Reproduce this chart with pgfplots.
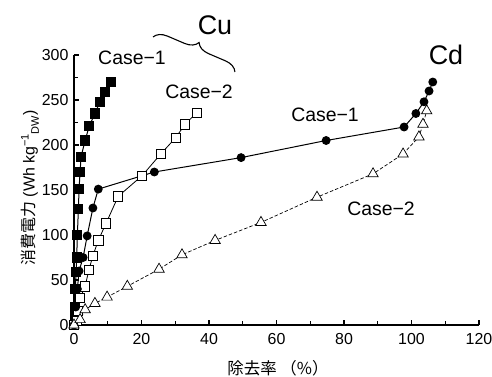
\documentclass[border=0pt]{standalone}
\usepackage{fontspec}
\setmainfont{Liberation Sans}
\newfontfamily\jp{Noto Sans CJK JP}
\usepackage{pgfplots}
\pgfplotsset{compat=1.18}
\usetikzlibrary{decorations.pathreplacing}
\begin{document}
\begin{tikzpicture}[x=1bp,y=1bp]
\path[use as bounding box] (-74,-51) rectangle (418,325);
\begin{axis}[at={(0,0)}, anchor=south west, scale only axis, width=405bp, height=270bp,
 xmin=0,xmax=120,ymin=0,ymax=300,
 axis x line*=bottom, axis y line*=left, axis line style={line width=1.6bp, -},
 tick align=inside, xtick={0,20,...,120}, ytick={0,50,...,300},
 minor x tick num=1, minor y tick num=1,
 major tick length=5bp, minor tick length=4bp, tick style={line width=1.2bp, black},
 /pgf/number format/assume math mode=true,
 tick label style={font=\fontsize{16}{18}\selectfont},
 xticklabel style={yshift=-5bp},
 yticklabel style={xshift=-2bp},
 clip=false,
]
% Cu Case-1
\addplot[black, line width=1bp, mark=square*, mark size=4.6bp, mark options={fill=black}] coordinates {
(0,0) (0.2,10) (0.3,20) (0.4,40) (0.6,59) (0.8,75) (1.0,100) (1.3,129) (1.5,151) (1.8,170) (2.1,187) (3.3,205) (4.5,221) (6.2,235) (7.7,248) (9.2,259) (11,270)};
% Cu Case-2
\addplot[black, line width=0.8bp, mark=square*, mark size=4.6bp, mark options={fill=white}] coordinates {
(0,0) (0.8,5) (1.2,16) (1.8,30) (3.3,43) (4.4,61) (5.6,77) (7.2,94) (9.5,113) (13.1,143) (20.2,166) (25.7,190) (30.1,208) (32.9,223) (36.4,236)};
% Cd Case-1
\addplot[black, line width=1bp, mark=*, mark size=3.9bp, mark options={fill=black}] coordinates {
(0,0) (0.5,20) (1,40) (1.5,60) (2.7,75) (3.9,99) (5.6,130) (7.2,151) (23.8,170) (49.5,186) (74.7,205) (97.8,220) (101.3,235) (103.7,248) (105.2,260) (106.3,270)};
% Cd Case-2
\addplot[black, line width=0.7bp, dash pattern=on 3.5bp off 2bp, mark=triangle*, mark size=6bp, mark options={fill=white, solid}] coordinates {
(0,0) (1.8,6) (3.3,17) (6.2,24) (9.8,31) (15.8,43) (25.2,62) (32,78) (41.8,94) (55.4,114) (72,142) (88.6,168) (97.5,190) (102.2,209) (103.4,223) (104.5,238)};
\end{axis}
\node[font=\fontsize{19.5}{22}\selectfont] at (58,267) {Case−1};
\node[font=\fontsize{19.5}{22}\selectfont] at (125,233) {Case−2};
\node[font=\fontsize{27}{30}\selectfont] at (141,300) {Cu};
\node[font=\fontsize{27}{30}\selectfont] at (372,270) {Cd};
\node[font=\fontsize{19.5}{22}\selectfont] at (251,210) {Case−1};
\node[font=\fontsize{19.5}{22}\selectfont] at (307,116) {Case−2};
\draw[line width=1.1bp, decorate, decoration={brace, amplitude=13bp}] (79,288) -- (161,253);
\node[font=\fontsize{16.5}{18}\selectfont] at (204,-43) {\jp 除去率 （\%）};
\node[rotate=90, font=\fontsize{16}{18}\selectfont] at (-44,137) {{\jp 消費電力} (Wh kg\raisebox{0.7ex}{\fontsize{11}{12}\selectfont −1}\raisebox{-0.5ex}{\fontsize{11}{12}\selectfont DW})};
\end{tikzpicture}
\end{document}
